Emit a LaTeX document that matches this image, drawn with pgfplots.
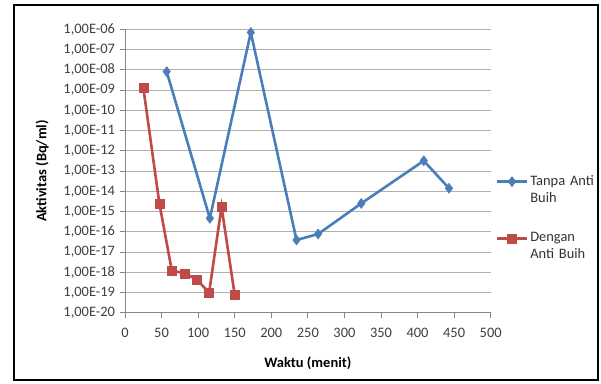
\documentclass[border=0pt]{standalone}
\usepackage{fontspec}
\setmainfont{Carlito}
\usepackage{pgfplots}
\pgfplotsset{compat=1.18}
\definecolor{blueS}{HTML}{4A7EBB}
\definecolor{redS}{HTML}{BE4B48}
\definecolor{axgray}{HTML}{868686}
\definecolor{gridgray}{HTML}{B0B0B0}
\begin{document}
\fontsize{14.5}{17}\selectfont
\begin{tikzpicture}[x=1bp,y=1bp]
\useasboundingbox (-125,-70.3) rectangle (476,312.7);
\fill[white] (-125,-70.3) rectangle (476,312.7);
\draw[line width=1.8bp] (-111,-67.3) rectangle (473,307.7);
\begin{axis}[
  at={(0,0)}, anchor=south west,
  scale only axis, width=365.7bp, height=283.4bp,
  ymode=log, log basis y=10,
  xmin=0, xmax=500, ymin=1e-20, ymax=1e-6,
  xtick={0,50,...,500},
  ytick={1e-20,1e-19,1e-18,1e-17,1e-16,1e-15,1e-14,1e-13,1e-12,1e-11,1e-10,1e-9,1e-8,1e-7,1e-6},
  yticklabels={{1,00E-20},{1,00E-19},{1,00E-18},{1,00E-17},{1,00E-16},{1,00E-15},{1,00E-14},{1,00E-13},{1,00E-12},{1,00E-11},{1,00E-10},{1,00E-09},{1,00E-08},{1,00E-07},{1,00E-06}},
  yminorticks=false,
  /pgf/number format/assume math mode=true,
  ticklabel style={font=\fontsize{14.5}{17}\selectfont, text=black!75},
  xticklabel style={yshift=-5bp},
  axis x line*=bottom, axis y line*=left,
  axis line style={axgray, line width=0.8bp, -},
  tick style={axgray, line width=0.8bp},
  tick align=outside, major tick length=5bp,
  ymajorgrids, major grid style={gridgray, line width=0.8bp},
  xlabel={\textbf{Waktu (menit)}},
  ylabel={\textbf{Aktivitas (Bq/ml)}},
  xlabel shift=10bp, ylabel shift=5bp,
  label style={font=\fontsize{14.5}{17}\selectfont},
  legend cell align=left,
  legend style={draw=none, fill=none, at={(1.005,0.363)}, anchor=west,
    nodes={text width=72bp, align=left, font=\fontsize{14.5}{17}\selectfont\raggedright, text=black!80},
    row sep=41bp},
  legend image code/.code={\draw[mark repeat=2,mark phase=2] plot coordinates {(0bp,0bp) (15bp,0bp) (30bp,0bp)};},
]
\addplot[blueS, line width=2.6bp, mark=diamond*, mark size=5bp, mark options={solid, fill=blueS, line width=0.5bp}] coordinates {
(57,8.1e-9) (116,4.6e-16) (172,7e-7) (234.5,3.9e-17) (264,7.7e-17) (323,2.5e-15) (408.5,3.2e-13) (443,1.4e-14)
};
\addlegendentry{Tanpa Anti\\Buih}
\addplot[redS, line width=2.6bp, mark=square*, mark size=4.5bp, mark options={solid, fill=redS, line width=0.5bp}] coordinates {
(25,1.35e-9) (47,2.5e-15) (64,1.2e-18) (82,8.8e-19) (98,4.4e-19) (115,9.8e-20) (132,1.7e-15) (150,7.5e-20)
};
\addlegendentry{Dengan\\Anti Buih}
\end{axis}
\end{tikzpicture}
\end{document}
